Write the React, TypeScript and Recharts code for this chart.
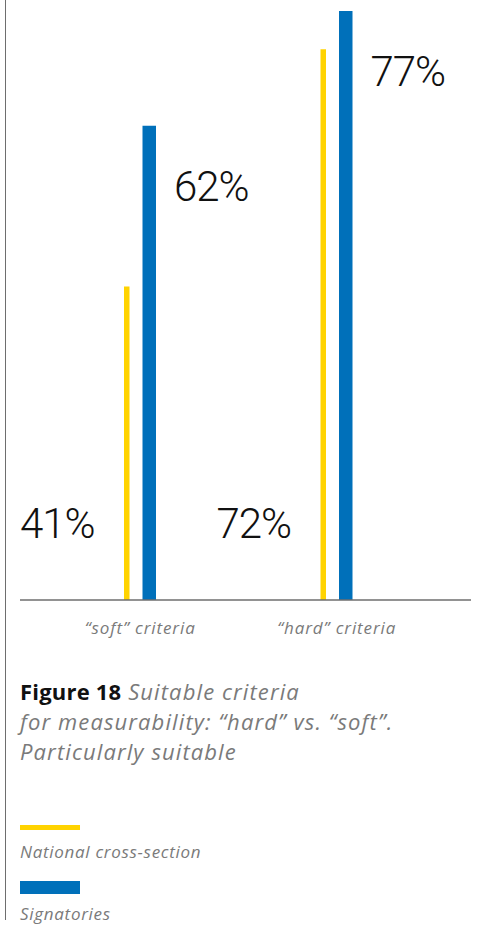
import React from 'react';
import { BarChart, Bar, XAxis, YAxis, LabelList } from 'recharts';

const categories = ['“soft” criteria', '“hard” criteria'];
const nationalValues = [41, 72];
const signatoryValues = [62, 77];
const seriesNames = ['National cross-section', 'Signatories'];

const YELLOW = '#FFD300';
const BLUE = '#0070BA';
const GRAY_TEXT = '#7a7a7a';
const AXIS = '#6e6e6e';
const NUM_FONT = 'Roboto, "Liberation Sans", sans-serif';
const TEXT_FONT = '"Open Sans", "Noto Sans", sans-serif';

const data = categories.map((c, i) => ({
  category: c,
  national: nationalValues[i],
  signatories: signatoryValues[i],
}));

const CategoryTick = (props: any) => {
  const { x, y, payload } = props;
  return (
    <text x={x} y={y} dy={26} textAnchor="middle" fill={GRAY_TEXT} fontSize={17} letterSpacing={0.9} fontStyle="italic" fontFamily={TEXT_FONT}>
      {payload.value}
    </text>
  );
};

const BlueLabel = (props: any) => {
  const { x, y, width, value } = props;
  return (
    <text x={Number(x) + Number(width) + 18} y={Number(y) + 75} fill="#111" fontSize={42} fontWeight={300} fontFamily={NUM_FONT} letterSpacing={-1}>
      {value}%
    </text>
  );
};

const YellowLabel = (props: any) => {
  const { x, y, height, value } = props;
  return (
    <text x={Number(x) - 104} y={Number(y) + Number(height) - 62} fill="#111" fontSize={42} fontWeight={300} fontFamily={NUM_FONT} letterSpacing={-1}>
      {value}%
    </text>
  );
};

const legendText: React.CSSProperties = {
  fontSize: 17,
  letterSpacing: 0.7,
  fontStyle: 'italic',
  color: GRAY_TEXT,
  lineHeight: '22px',
  whiteSpace: 'nowrap',
};

export default function App() {
  return (
    <div style={{ position: 'absolute', left: 0, top: 0, width: 480, height: 928, background: '#fff', overflow: 'hidden' }}>
      <div style={{ position: 'absolute', left: 4.5, top: 0, width: 1.5, height: 920, background: AXIS }} />
      <div style={{ position: 'absolute', left: 0, top: 0 }}>
        <BarChart
          width={480}
          height={650}
          data={data}
          margin={{ top: 11, right: 9, bottom: 10, left: 20 }}
          barGap={13}
        >
          <XAxis
            dataKey="category"
            height={40}
            padding={{ left: 22, right: 36 }}
            axisLine={{ stroke: AXIS, strokeWidth: 1.5 }}
            tickLine={false}
            tick={<CategoryTick />}
            interval={0}
          />
          <YAxis hide domain={[0, 'dataMax']} />
          <Bar dataKey="national" name={seriesNames[0]} fill={YELLOW} barSize={5.5} isAnimationActive={false}>
            <LabelList dataKey="national" content={<YellowLabel />} />
          </Bar>
          <Bar dataKey="signatories" name={seriesNames[1]} fill={BLUE} barSize={13.5} isAnimationActive={false}>
            <LabelList dataKey="signatories" content={<BlueLabel />} />
          </Bar>
        </BarChart>
      </div>
      <div style={{ position: 'absolute', left: 20, top: 676, width: 460, fontFamily: TEXT_FONT, fontSize: 22, lineHeight: '30px', color: GRAY_TEXT, fontStyle: 'italic', letterSpacing: 1.1, whiteSpace: 'nowrap' }}>
        <div><span style={{ fontStyle: 'normal', fontWeight: 700, color: '#111', letterSpacing: 0.2 }}>Figure 18</span> Suitable criteria</div>
        <div>for measurability: “hard” vs. “soft”.</div>
        <div>Particularly suitable</div>
      </div>
      <div style={{ position: 'absolute', left: 20, top: 825, fontFamily: TEXT_FONT }}>
        <div style={{ width: 60, height: 5, background: YELLOW }} />
        <div style={{ marginTop: 11.4, ...legendText }}>{seriesNames[0]}</div>
        <div style={{ marginTop: 17.6, width: 60, height: 13, background: BLUE }} />
        <div style={{ marginTop: 9.4, ...legendText }}>{seriesNames[1]}</div>
      </div>
    </div>
  );
}
